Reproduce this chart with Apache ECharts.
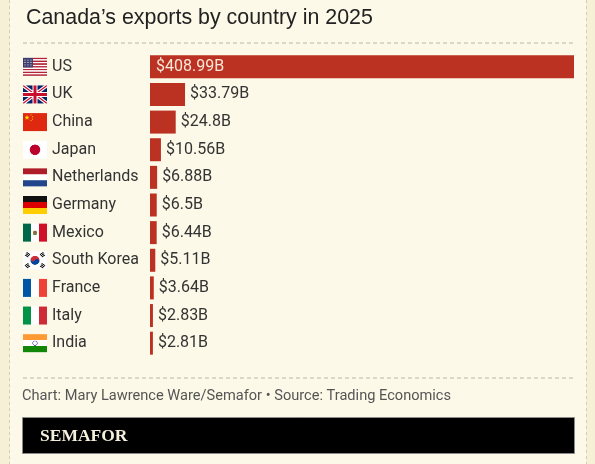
<!DOCTYPE html>
<html>
<head>
<meta charset="utf-8">
<script src="https://cdn.jsdelivr.net/npm/echarts@6/dist/echarts.min.js"></script>
<style>
  html, body { margin: 0; padding: 0; background: #f6f0d6; }
  #main { width: 595px; height: 464px; }
</style>
</head>
<body>
<div id="main"></div>
<script>
// data
var countries = ['US', 'UK', 'China', 'Japan', 'Netherlands', 'Germany', 'Mexico', 'South Korea', 'France', 'Italy', 'India'];
var flagKeys = ['us', 'uk', 'cn', 'jp', 'nl', 'de', 'mx', 'kr', 'fr', 'it', 'in'];
var exportsBn = [408.99, 33.79, 24.8, 10.56, 6.88, 6.5, 6.44, 5.11, 3.64, 2.83, 2.81];

var titleText = 'Canada\u2019s exports by country in 2025';
var sourceText = 'Chart: Mary Lawrence Ware/Semafor \u2022 Source: Trading Economics';

// flags drawn on small canvases (48x36, shown at 24x18)
function star(ctx, cx, cy, r, rot) {
  ctx.beginPath();
  for (var i = 0; i < 10; i++) {
    var rr = i % 2 ? r * 0.4 : r;
    var a = -Math.PI / 2 + rot + i * Math.PI / 5;
    ctx.lineTo(cx + rr * Math.cos(a), cy + rr * Math.sin(a));
  }
  ctx.closePath();
  ctx.fill();
}
function hStripes(ctx, cols) {
  var h = 36 / cols.length;
  cols.forEach(function (c, i) { ctx.fillStyle = c; ctx.fillRect(0, i * h, 48, h + 0.5); });
}
function vStripes(ctx, cols) {
  var w = 48 / cols.length;
  cols.forEach(function (c, i) { ctx.fillStyle = c; ctx.fillRect(i * w, 0, w + 0.5, 36); });
}
function makeFlag(key) {
  var cv = document.createElement('canvas');
  cv.width = 48; cv.height = 36;
  var ctx = cv.getContext('2d');
  if (key === 'us') {
    var s = [];
    for (var i = 0; i < 13; i++) s.push(i % 2 ? '#ffffff' : '#b22234');
    hStripes(ctx, s);
    ctx.fillStyle = '#3c3b6e';
    ctx.fillRect(0, 0, 20, 19.4);
    ctx.fillStyle = '#ffffff';
    for (var r = 0; r < 5; r++) for (var c = 0; c < 6; c++) ctx.fillRect(2 + c * 3, 2 + r * 3.4, 1.2, 1.2);
  } else if (key === 'uk') {
    ctx.fillStyle = '#012169'; ctx.fillRect(0, 0, 48, 36);
    ctx.strokeStyle = '#ffffff'; ctx.lineWidth = 7;
    ctx.beginPath(); ctx.moveTo(0, 0); ctx.lineTo(48, 36); ctx.moveTo(48, 0); ctx.lineTo(0, 36); ctx.stroke();
    ctx.strokeStyle = '#c8102e'; ctx.lineWidth = 2.5;
    ctx.beginPath(); ctx.moveTo(0, 0); ctx.lineTo(48, 36); ctx.moveTo(48, 0); ctx.lineTo(0, 36); ctx.stroke();
    ctx.fillStyle = '#ffffff'; ctx.fillRect(19, 0, 10, 36); ctx.fillRect(0, 13, 48, 10);
    ctx.fillStyle = '#c8102e'; ctx.fillRect(21, 0, 6, 36); ctx.fillRect(0, 15, 48, 6);
  } else if (key === 'cn') {
    ctx.fillStyle = '#de2910'; ctx.fillRect(0, 0, 48, 36);
    ctx.fillStyle = '#ffde00';
    star(ctx, 8, 9, 5.4, 0);
    star(ctx, 16, 3.6, 1.8, 0.4);
    star(ctx, 19.2, 7.2, 1.8, 0.2);
    star(ctx, 19.2, 12, 1.8, 0);
    star(ctx, 16, 15, 1.8, 0.4);
  } else if (key === 'jp') {
    ctx.fillStyle = '#ffffff'; ctx.fillRect(0, 0, 48, 36);
    ctx.fillStyle = '#bc002d';
    ctx.beginPath(); ctx.arc(24, 18, 10.5, 0, Math.PI * 2); ctx.fill();
  } else if (key === 'nl') {
    hStripes(ctx, ['#ae1c28', '#ffffff', '#21468b']);
  } else if (key === 'de') {
    hStripes(ctx, ['#111111', '#dd0000', '#ffce00']);
  } else if (key === 'mx') {
    vStripes(ctx, ['#006847', '#ffffff', '#ce1126']);
    ctx.fillStyle = '#8c6a3a';
    ctx.beginPath(); ctx.arc(24, 18, 4, 0, Math.PI * 2); ctx.fill();
    ctx.fillStyle = '#4a8a3a';
    ctx.fillRect(20.5, 21, 7, 1.6);
  } else if (key === 'kr') {
    ctx.fillStyle = '#ffffff'; ctx.fillRect(0, 0, 48, 36);
    ctx.fillStyle = '#cd2e3a';
    ctx.beginPath(); ctx.arc(24, 18, 9, Math.PI * 1.15, Math.PI * 0.15); ctx.fill();
    ctx.fillStyle = '#0047a0';
    ctx.beginPath(); ctx.arc(24, 18, 9, Math.PI * 0.15, Math.PI * 1.15); ctx.fill();
    ctx.fillStyle = '#cd2e3a';
    ctx.beginPath(); ctx.arc(24 - 4.5 * Math.cos(0.15 * Math.PI), 18 - 4.5 * Math.sin(0.15 * Math.PI), 4.5, 0, Math.PI * 2); ctx.fill();
    ctx.fillStyle = '#0047a0';
    ctx.beginPath(); ctx.arc(24 + 4.5 * Math.cos(0.15 * Math.PI), 18 + 4.5 * Math.sin(0.15 * Math.PI), 4.5, 0, Math.PI * 2); ctx.fill();
    ctx.fillStyle = '#111111';
    [[9, 7, 0.6], [39, 7, -0.6], [9, 29, -0.6], [39, 29, 0.6]].forEach(function (t) {
      ctx.save(); ctx.translate(t[0], t[1]); ctx.rotate(t[2]);
      ctx.fillRect(-4, -4, 8, 2); ctx.fillRect(-4, -1, 8, 2); ctx.fillRect(-4, 2, 8, 2);
      ctx.restore();
    });
  } else if (key === 'fr') {
    vStripes(ctx, ['#0055a4', '#ffffff', '#ef4135']);
  } else if (key === 'it') {
    vStripes(ctx, ['#009246', '#ffffff', '#ce2b37']);
  } else if (key === 'in') {
    hStripes(ctx, ['#ff9933', '#ffffff', '#138808']);
    ctx.strokeStyle = '#000080'; ctx.lineWidth = 1;
    ctx.beginPath(); ctx.arc(24, 18, 4.5, 0, Math.PI * 2); ctx.stroke();
  }
  return cv;
}

var rich = {
  name: { fontFamily: 'Roboto', fontSize: 16, color: '#333333', padding: [0, 0, 0, 5] }
};
flagKeys.forEach(function (k) {
  rich[k] = { width: 24, height: 18, backgroundColor: { image: makeFlag(k) } };
});

var option = {
  backgroundColor: 'transparent',
  animation: false,
  title: {
    text: titleText,
    left: 21,
    top: 3,
    textStyle: { fontFamily: 'Liberation Sans', fontSize: 21.4, fontWeight: 'normal', color: '#222222' }
  },
  grid: { left: 150, right: 21, top: 53, bottom: 107 },
  xAxis: {
    type: 'value',
    min: 0,
    max: exportsBn[0],
    show: false
  },
  yAxis: {
    type: 'category',
    data: countries,
    inverse: true,
    axisLine: { show: false },
    axisTick: { show: false },
    axisLabel: {
      margin: 127,
      align: 'left',
      formatter: function (value, index) {
        return '{' + flagKeys[index] + '| }{name|' + value + '}';
      },
      rich: rich
    }
  },
  series: [
    {
      type: 'bar',
      barWidth: 23,
      itemStyle: { color: '#bb3223' },
      label: {
        show: true,
        position: 'right',
        distance: 5,
        fontFamily: 'Roboto',
        fontSize: 16,
        color: '#333333',
        formatter: function (p) { return '$' + p.value + 'B'; }
      },
      data: exportsBn.map(function (v, i) {
        if (i === 0) {
          return { value: v, label: { position: 'insideLeft', distance: 6, color: '#f7e8d8' } };
        }
        return v;
      })
    }
  ],
  graphic: [
    { type: 'rect', z: -10, shape: { x: 10, y: 0, width: 576, height: 464 }, style: { fill: '#fcf9e8' } },
    { type: 'line', z: -5, shape: { x1: 9.5, y1: 0, x2: 9.5, y2: 464 }, style: { stroke: '#d2cdb8', lineWidth: 1, lineDash: [3, 3] } },
    { type: 'line', z: -5, shape: { x1: 586.5, y1: 0, x2: 586.5, y2: 464 }, style: { stroke: '#d2cdb8', lineWidth: 1, lineDash: [3, 3] } },
    { type: 'line', shape: { x1: 23, y1: 43, x2: 575, y2: 43 }, style: { stroke: '#d0ccc0', lineWidth: 1.5, lineDash: [4, 3] } },
    { type: 'line', shape: { x1: 23, y1: 378, x2: 575, y2: 378 }, style: { stroke: '#d0ccc0', lineWidth: 1.5, lineDash: [4, 3] } },
    { type: 'text', x: 22, y: 396, style: { text: sourceText, fontFamily: 'Roboto', fontSize: 14.6, fill: '#555555', verticalAlign: 'middle' } },
    { type: 'rect', shape: { x: 22.5, y: 417.5, width: 552, height: 36 }, style: { fill: '#000000', stroke: '#8a8a8a', lineWidth: 1 } },
    { type: 'text', x: 40, y: 436, style: { text: 'SEMAFOR', fontFamily: 'Liberation Serif', fontWeight: 'bold', fontSize: 17.5, fill: '#f5f0de', verticalAlign: 'middle' } }
  ]
};

var myChart = echarts.init(document.getElementById('main'));
myChart.setOption(option);
</script>
</body>
</html>
